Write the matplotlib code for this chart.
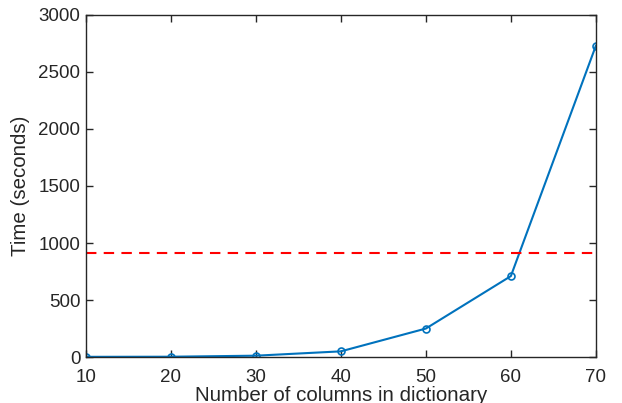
import matplotlib.pyplot as plt

plt.rcParams['font.family'] = ['Liberation Sans', 'DejaVu Sans']

n_columns = [10, 20, 30, 40, 50, 60, 70]
time_sec = [2, 3, 12, 50, 250, 710, 2730]
threshold = 915

fig = plt.figure(figsize=(6.22, 4.03), dpi=100)
ax = fig.add_axes([0.138, 0.114, 0.82, 0.849])

ax.plot(n_columns, time_sec, color='#0072BD', linewidth=1.5,
        marker='o', markersize=5, markerfacecolor='none', markeredgewidth=1.2)
ax.plot([n_columns[0], n_columns[-1]], [threshold, threshold],
        color='#FF0000', linestyle='--', linewidth=1.5, dashes=(5, 3.5))

ax.set_xlim(10, 70)
ax.set_ylim(0, 3000)
ax.set_xticks(n_columns)
ax.set_yticks([0, 500, 1000, 1500, 2000, 2500, 3000])

dark = '#262626'
for s in ax.spines.values():
    s.set_color(dark)
    s.set_linewidth(1.0)
ax.tick_params(direction='in', top=True, right=True, length=5, width=1.0,
               colors=dark, labelsize=13.5, labelcolor=dark, pad=4)
ax.tick_params(axis='x', pad=8.5)

ax.set_xlabel("Number of columns in dictionary", fontsize=14.8, color=dark, labelpad=0)
ax.set_ylabel("Time (seconds)", fontsize=14.8, color=dark, labelpad=6)

fig.savefig("out.png", dpi=100)
